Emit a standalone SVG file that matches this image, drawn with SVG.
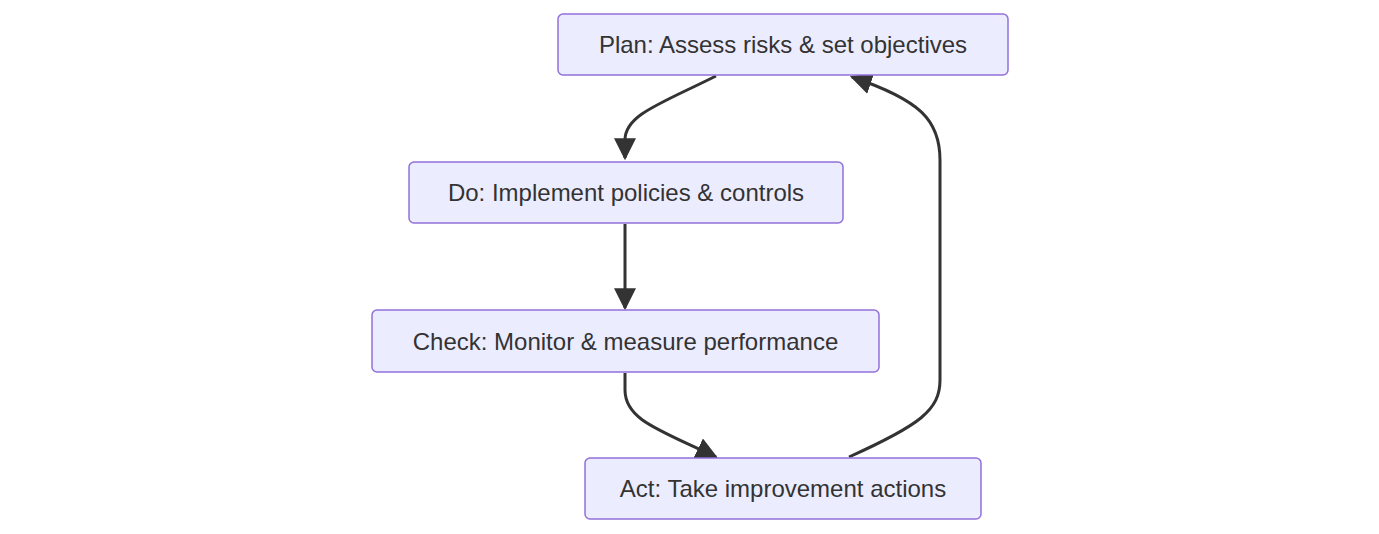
<svg xmlns="http://www.w3.org/2000/svg" width="1379" height="534" viewBox="0 0 1379 534">
<style>
.n rect{fill:#ECECFF;stroke:#9370DB;stroke-width:1.5}
.n text{font-family:"Liberation Sans",Arial,sans-serif;font-size:24px;fill:#333;text-anchor:middle;dominant-baseline:central}
.e path{fill:none;stroke:#333;stroke-width:3}
</style>
<defs><marker id="a" viewBox="0 0 10 10" refX="9" refY="5" markerWidth="7" markerHeight="7" markerUnits="userSpaceOnUse" orient="auto"><path d="M0,0L10,5L0,10z" fill="#333" transform="scale(1)"/></marker>
<marker id="b" viewBox="0 0 10 10" refX="9" refY="5" markerWidth="22" markerHeight="22" markerUnits="userSpaceOnUse" orient="auto"><path d="M0,0L10,5L0,10z" fill="#333"/></marker></defs>
<g class="e">
<path d="M716,76 C660,104 625,115 625,140 L625,158" marker-end="url(#b)"/>
<path d="M625,224 L625,308" marker-end="url(#b)"/>
<path d="M625,373 L625,390 C625,420 660,430 716,457" marker-end="url(#b)"/>
<path d="M849,457 C920,425 940,410 940,380 L940,160 C940,120 920,100 852,77" marker-end="url(#b)"/>
</g>
<g id="plan" class="n"><rect x="558" y="14" width="450" height="61" rx="5"/><text x="783" y="44.5">Plan: Assess risks &amp; set objectives</text></g>
<g id="do" class="n"><rect x="409" y="162" width="434" height="61" rx="5"/><text x="626" y="192.5">Do: Implement policies &amp; controls</text></g>
<g id="check" class="n"><rect x="372" y="310" width="507" height="62" rx="5"/><text x="625.5" y="341">Check: Monitor &amp; measure performance</text></g>
<g id="act" class="n"><rect x="585" y="458" width="396" height="61" rx="5"/><text x="783" y="488.5">Act: Take improvement actions</text></g>
</svg>
